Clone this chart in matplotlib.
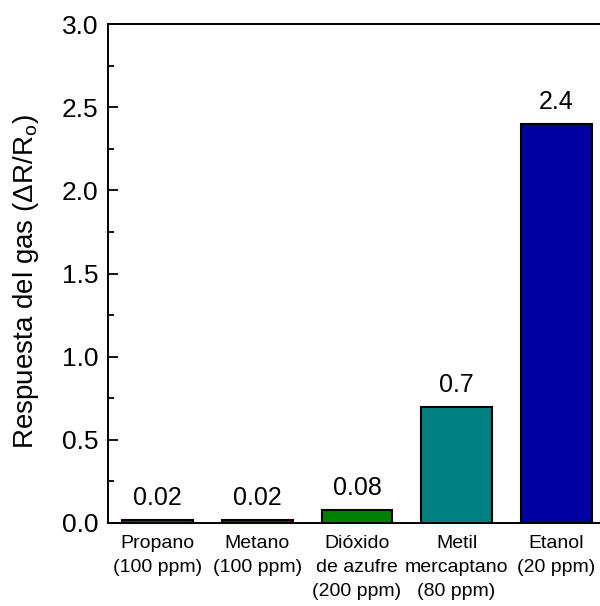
import matplotlib
matplotlib.use("Agg")
import matplotlib.pyplot as plt
from matplotlib.ticker import MultipleLocator, FormatStrFormatter

plt.rcParams['font.family'] = ['Liberation Sans', 'DejaVu Sans']

categories = ["Propano\n(100 ppm)", "Metano\n(100 ppm)", "Dióxido\nde azufre\n(200 ppm)",
              "Metil\nmercaptano\n(80 ppm)", "Etanol\n(20 ppm)"]
values = [0.02, 0.02, 0.08, 0.7, 2.4]
value_labels = ["0.02", "0.02", "0.08", "0.7", "2.4"]
colors = ["#800080", "#800000", "#008000", "#008080", "#0000A0"]

fig = plt.figure(figsize=(6.0, 6.06), dpi=100)
ax = fig.add_axes([108/600, 1 - 523/606, 498/600, (523 - 24)/606])

x = list(range(len(values)))
ax.bar(x, values, width=0.71, color=colors, edgecolor="black", linewidth=1.5)

for xi, v, lab in zip(x, values, value_labels):
    ax.annotate(lab, (xi, v), xytext=(0, 7), textcoords="offset points",
                ha="center", va="bottom", fontsize=18)

ax.set_xlim(-0.5, 4.5)
ax.set_ylim(0, 3.0)
ax.yaxis.set_major_locator(MultipleLocator(0.5))
ax.yaxis.set_minor_locator(MultipleLocator(0.25))
ax.yaxis.set_major_formatter(FormatStrFormatter("%.1f"))
ax.set_xticks(x)
ax.set_xticklabels(categories, fontsize=14, linespacing=1.5)
ax.tick_params(axis="x", length=0, pad=9)
ax.tick_params(axis="y", which="major", direction="in", length=7.5, width=1.3, labelsize=19, pad=7)
ax.tick_params(axis="y", which="minor", direction="in", length=4.5, width=1.3)
for s in ax.spines.values():
    s.set_linewidth(1.4)

ax.set_ylabel("Respuesta del gas (ΔR/R$_\\mathregular{o}$)", fontsize=20)
ax.yaxis.set_label_coords(-0.135, 0.483)

fig.savefig("out.png", dpi=100)
